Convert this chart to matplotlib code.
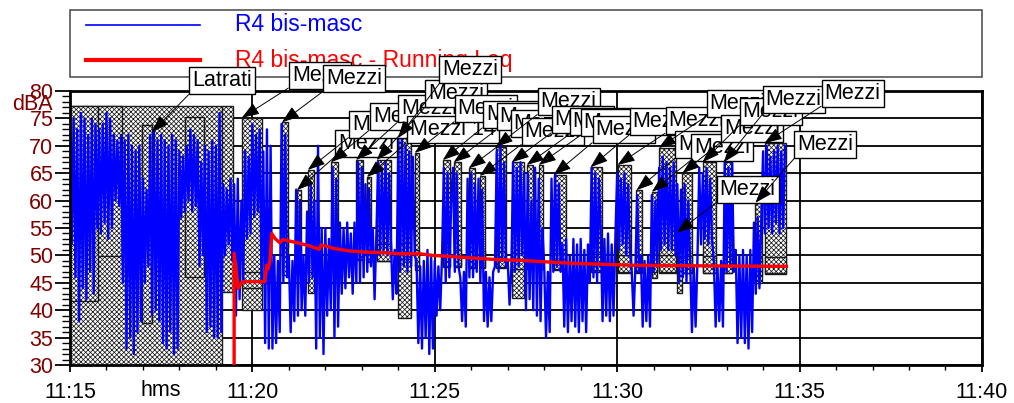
import numpy as np
import matplotlib
matplotlib.use('Agg')
import matplotlib.pyplot as plt
from matplotlib.patches import Rectangle
from matplotlib.lines import Line2D

plt.rcParams['font.family'] = ['Liberation Sans', 'DejaVu Sans']
plt.rcParams['hatch.linewidth'] = 0.55

# time axis: minutes after 11:15, one sample every 3 s
step = 0.05
lev = [
    74, 52, 75, 46, 73, 38, 76, 44, 75, 42,
    72, 47, 75, 43, 74, 55, 73, 54, 74, 56,
    76, 53, 75, 55, 72, 60, 71, 59, 72, 45,
    71, 33, 72, 35, 70, 32, 69, 36, 70, 38,
    64, 45, 62, 48, 72, 39, 73, 40, 71, 38,
    72, 34, 71, 33, 70, 36, 72, 32, 71, 33,
    69, 57, 68, 58, 70, 60, 73, 58, 72, 59,
    71, 48, 67, 50, 70, 36, 69, 37, 71, 35,
    70, 35, 76, 36, 63, 50, 62, 52, 64, 49,
    63, 39, 64, 42, 60, 45, 69, 53, 68, 54,
    74, 57, 72, 58, 73, 45, 69, 34, 73, 33,
    70, 33, 50, 34, 49, 36, 74, 45, 72, 46,
    50, 36, 49, 38, 62, 39, 60, 40, 50, 39,
    58, 45, 63, 46, 60, 33, 70, 35, 55, 32,
    55, 39, 53, 40, 66, 35, 64, 37, 56, 43,
    55, 44, 56, 46, 54, 43, 56, 45, 67, 45,
    66, 46, 63, 47, 62, 48, 55, 42, 54, 67,
    50, 66, 51, 67, 50, 65, 52, 42, 51, 43,
    71, 47, 72, 48, 70, 47, 69, 48, 68, 50,
    49, 34, 48, 33, 49, 35, 51, 32, 50, 33,
    49, 39, 48, 40, 50, 66, 45, 65, 46, 60,
    66, 47, 65, 48, 46, 38, 47, 37, 64, 46,
    65, 46, 63, 47, 64, 45, 62, 38, 47, 37,
    46, 38, 47, 48, 69, 47, 70, 49, 67, 48,
    49, 41, 48, 67, 47, 66, 48, 67, 50, 65,
    40, 65, 42, 60, 40, 66, 39, 64, 38, 55,
    48, 35, 47, 36, 64, 47, 65, 48, 63, 47,
    52, 37, 53, 36, 50, 38, 53, 37, 52, 36,
    53, 38, 51, 36, 52, 45, 66, 46, 65, 45,
    64, 54, 38, 53, 39, 54, 38, 52, 39, 53,
    65, 51, 64, 52, 65, 50, 63, 51, 47, 39,
    48, 61, 47, 50, 37, 49, 38, 50, 37, 61,
    47, 60, 48, 66, 51, 68, 52, 67, 51, 66,
    51, 67, 50, 63, 45, 62, 46, 63, 45, 60,
    49, 36, 48, 37, 49, 66, 52, 65, 53, 66,
    52, 64, 53, 49, 37, 48, 38, 49, 37, 67,
    47, 66, 48, 67, 47, 51, 34, 50, 35, 51,
    34, 50, 33, 51, 36, 56, 43, 57, 44, 56,
    69, 54, 70, 55, 68, 54, 69, 56, 70, 54,
    69, 55, 70,
]

# running Leq
leq_t = [4.50, 4.50, 4.61, 4.73, 5.34, 5.39, 5.43, 5.48, 5.53, 5.62, 5.75, 5.84,
         6.03, 6.30, 6.58, 6.83, 6.88, 7.08, 7.21, 7.67, 8.13, 8.58, 9.04, 9.59,
         9.95, 10.87, 11.78, 12.33, 13.61, 15.43, 17.26, 19.64]
leq_v = [30, 50.4, 44.0, 45.2, 45.2, 48.2, 47.5, 48.9, 54.0, 53.1, 52.3, 52.9,
         52.6, 52.2, 51.7, 51.1, 51.9, 51.6, 51.3, 50.8, 50.6, 50.5, 50.3, 50.3,
         50.0, 49.6, 49.2, 49.1, 48.6, 48.2, 48.1, 48.0]

# "Latrati" event boxes
lat_t0 = [0, 4.16, 0, 0.77, 1.97, 3.15]
lat_t1 = [4.16, 4.47, 0.77, 1.42, 2.25, 3.67]
lat_lo = [30, 43.3, 41.7, 49.8, 37.7, 46.0]
lat_hi = [77.3, 77.3, 77.3, 77.3, 73.8, 75.3]

# "Mezzi" event boxes
ev_t0 = [4.71, 5.81, 6.22, 6.52, 7.15, 7.84, 8.14, 8.41, 8.99, 9.45, 10.22, 10.52,
         10.93, 11.23, 11.67, 12.11, 12.52, 12.85, 13.26, 14.27, 15.01, 15.53,
         15.95, 16.14, 16.63, 16.79, 17.34, 17.92, 18.79, 19.04]
ev_t1 = [5.26, 5.97, 6.33, 6.68, 7.34, 8.03, 8.25, 8.79, 9.34, 9.56, 10.41, 10.71,
         11.10, 11.37, 11.95, 12.44, 12.68, 12.96, 13.59, 14.58, 15.37, 15.67,
         16.08, 16.60, 16.77, 17.04, 17.70, 18.16, 18.96, 19.62]
ev_lo = [40.0, 46.4, 49.0, 43.1, 48.6, 49.2, 48.8, 49.0, 38.6, 47.3, 47.9, 47.9,
         47.7, 47.7, 47.7, 42.2, 47.5, 47.5, 47.3, 47.0, 46.8, 46.8, 45.9, 46.8,
         43.1, 46.8, 46.8, 46.8, 45.0, 46.6]
ev_hi = [75.1, 74.3, 61.9, 65.6, 67.0, 67.4, 64.3, 67.4, 71.4, 68.7, 67.4, 67.0,
         65.9, 64.5, 69.8, 67.0, 66.5, 66.5, 64.7, 66.1, 66.5, 61.9, 61.6, 69.6,
         54.1, 65.0, 67.0, 67.0, 59.6, 70.5]
ev_leq = [45.5, 52.8, 51.0, 48.5, 50.5, 50.8, 50.5, 50.5, 50.8, 49.5, 49.5, 49.5,
          49.3, 49.3, 49.3, 49.0, 49.0, 49.0, 49.0, 48.8, 48.5, 48.5, 48.5, 48.5,
          48.0, 48.3, 48.3, 48.3, 48.0, 48.2]
ev_txt = ['Mezzi'] * 30
ev_txt[6] = 'Mezzi 14'

tick_lbls = ['11:15', '11:20', '11:25', '11:30', '11:35', '11:40']

# label placement (pixels from the arrow tip to the label corner)
lbl_off = [(47, 29), (41, 30), (38, 33), (41, 32), (39, 32), (42, 38), (40, 34),
           (48, 53), (41, 55), (40, 31), (40, 32), (43, 32), (42, 31), (42, 31),
           (42, 32), (40, 29), (43, 30), (42, 29), (39, 32), (39, 32), (48, 31),
           (39, 32), (39, 31), (48, 31), (40, 30), (39, 31), (37, 37), (39, 49),
           (39, 45), (57, 36)]

FS = 15.5
fig = plt.figure(figsize=(10.14, 4.03), dpi=100)
ax = fig.add_axes([0.069, 0.0943, 0.8994, 0.6799])

hatch_kw = dict(facecolor='white', edgecolor='#1a1a1a', hatch='x' * 7, lw=1.0, zorder=1)
for a, b, lo, hi in zip(lat_t0, lat_t1, lat_lo, lat_hi):
    ax.add_patch(Rectangle((a, lo), b - a, hi - lo, **hatch_kw))
for a, b, lo, hi, lq in zip(ev_t0, ev_t1, ev_lo, ev_hi, ev_leq):
    ax.add_patch(Rectangle((a, lo), b - a, hi - lo, **hatch_kw))
    ax.add_patch(Rectangle((a, lq - 1.5), b - a, 3.0, **hatch_kw))

t = np.arange(len(lev)) * step
ax.plot(t, lev, color='#0000ff', lw=1.7, zorder=2)
ax.plot(leq_t, leq_v, color='#ff0000', lw=2.4, zorder=3)

ax.set_xlim(0, 25)
ax.set_ylim(30, 80)
ax.set_xticks(range(0, 26, 5))
ax.set_xticklabels(tick_lbls)
ax.set_xticks(range(0, 26), minor=True)
ax.set_yticks(range(30, 81, 5))
ax.set_yticks(range(30, 81), minor=True)
ax.tick_params(axis='y', which='major', length=11, width=1.3, labelsize=FS,
               labelcolor='#800000', pad=1)
ax.tick_params(axis='y', which='minor', length=6, width=1.0)
ax.tick_params(axis='x', which='major', length=5, width=1.3, labelsize=FS, pad=7)
ax.tick_params(axis='x', which='minor', length=3.5, width=1.0)
ax.grid(True, which='major', color='black', lw=1.3)
ax.set_axisbelow(True)
for s in ax.spines.values():
    s.set_linewidth(2)

# legend box above the axes
ax.add_patch(Rectangle((0, 1.051), 1, 0.245, transform=ax.transAxes, fill=False,
                       ec='#555555', lw=1.2, clip_on=False, zorder=4))
ax.add_line(Line2D([0.0175, 0.1425], [1.241, 1.241], transform=ax.transAxes,
                   color='#0000ff', lw=1.2, clip_on=False, zorder=4))
ax.add_line(Line2D([0.0175, 0.1425], [1.113, 1.113], transform=ax.transAxes,
                   color='#ff0000', lw=3, clip_on=False, zorder=4))
ax.text(0.181, 1.241, 'R4 bis-masc', transform=ax.transAxes, color='#0000ff',
        fontsize=16.5, va='center', clip_on=False, zorder=4)
ax.text(0.181, 1.113, 'R4 bis-masc - Running Leq', transform=ax.transAxes,
        color='#ff0000', fontsize=16.5, va='center', clip_on=False, zorder=4)

box_kw = dict(boxstyle='square,pad=0.14', fc='white', ec='black', lw=1.0)
arr_kw = dict(arrowstyle='-|>,head_length=0.7,head_width=0.25', fc='black',
              ec='black', lw=0.7, shrinkA=0, shrinkB=0, relpos=(0, 0))

ax.annotate('Latrati', xy=(2.25, 72.5), xytext=(40, 41), textcoords='offset pixels',
            ha='left', va='bottom', fontsize=FS, bbox=box_kw, arrowprops=arr_kw,
            zorder=10)
for i, (a, hi, txt) in enumerate(zip(ev_t0, ev_hi, ev_txt)):
    dx, dy = lbl_off[i]
    ax.annotate(txt, xy=(a, hi), xytext=(dx + 3, dy + 3), textcoords='offset pixels',
                ha='left', va='bottom', fontsize=FS, bbox=box_kw, arrowprops=arr_kw,
                zorder=11 + i)

fig.text(53 / 1014, 1 - 105 / 403, 'dBA', color='#800000', fontsize=FS,
         ha='right', va='center')
fig.text(161 / 1014, 1 - 390 / 403, 'hms', color='black', fontsize=FS,
         ha='center', va='center')

fig.savefig('out.png', dpi=100)
